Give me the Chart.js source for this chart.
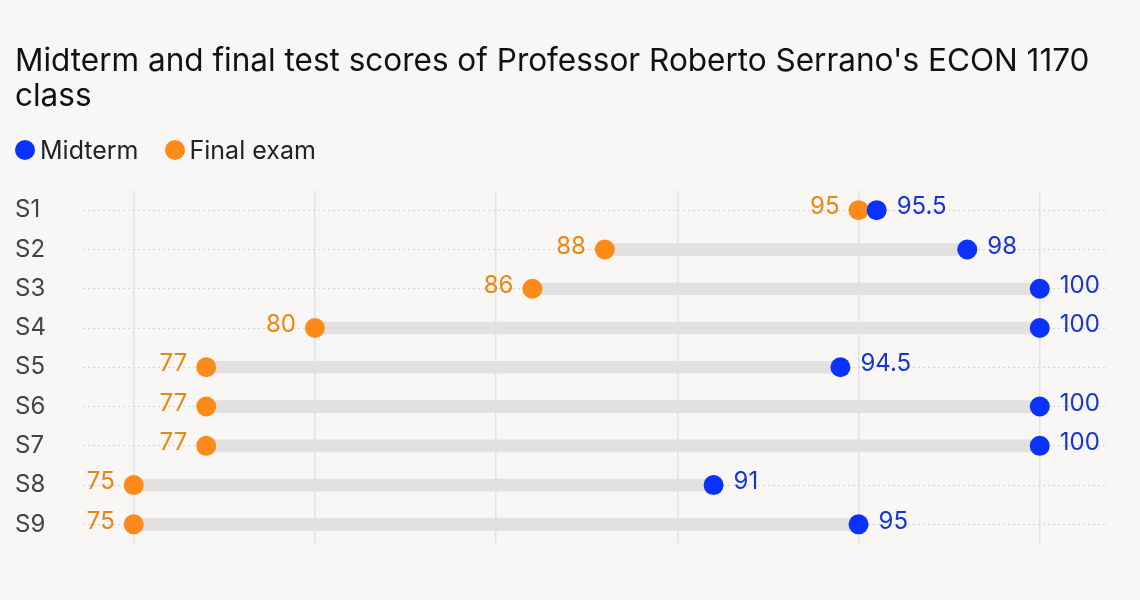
<!DOCTYPE html>
<html>
<head>
<meta charset="utf-8">
<style>
  html, body { margin: 0; padding: 0; background: #f8f7f5; }
  #wrap { position: relative; width: 1140px; height: 600px; }
  #legend { position: absolute; left: 15px; top: 135px; display: flex; align-items: center;
            font: 25px Inter, "Noto Sans", sans-serif; color: #222; }
  #legend span.dot { display: inline-block; width: 20px; height: 20px; border-radius: 50%; margin-right: 5px; }
  #legend span.item { display: flex; align-items: center; margin-right: 26px; }
</style>
</head>
<body>
<div id="wrap">
  <canvas id="scoreChart"></canvas>
  <div id="legend"></div>
</div>
<script src="https://cdn.jsdelivr.net/npm/chart.js"></script>
<script>
    const students = ['S1', 'S2', 'S3', 'S4', 'S5', 'S6', 'S7', 'S8', 'S9'];
    const midterm = [95.5, 98, 100, 100, 94.5, 100, 100, 91, 95];
    const finalExam = [95, 88, 86, 80, 77, 77, 77, 75, 75];
    const gridTicks = [75, 80, 85, 90, 95, 100];

    const blue = '#0a32ff';
    const orange = '#ff8a1c';
    const fontFamily = 'Inter, "Noto Sans", sans-serif';

    // value labels next to the dots: midterm on the right, final on the left
    const valueLabels = {
        id: 'valueLabels',
        afterDatasetsDraw(chart) {
            const c = chart.ctx;
            c.save();
            c.font = '24px ' + fontFamily;
            c.textBaseline = 'middle';
            chart.data.datasets.forEach((ds, i) => {
                if (!ds.labelSide) return;
                const meta = chart.getDatasetMeta(i);
                meta.data.forEach((pt, j) => {
                    c.fillStyle = ds.labelColor;
                    if (ds.labelSide === 'right') {
                        c.textAlign = 'left';
                        c.fillText(ds.data[j], pt.x + 20, pt.y - 3);
                    } else {
                        c.textAlign = 'right';
                        c.fillText(ds.data[j], pt.x - 19, pt.y - 3);
                    }
                });
            });
            c.restore();
        }
    };

    const ctx = document.getElementById('scoreChart').getContext('2d');
    const chart = new Chart(ctx, {
        type: 'bar',
        data: {
            labels: students,
            datasets: [
                {
                    type: 'line',
                    label: 'Midterm',
                    data: midterm,
                    indexAxis: 'y',
                    showLine: false,
                    pointRadius: 10,
                    pointHoverRadius: 10,
                    pointBackgroundColor: blue,
                    pointBorderWidth: 0,
                    backgroundColor: blue,
                    borderColor: blue,
                    labelSide: 'right',
                    labelColor: '#1734d6',
                    order: 0
                },
                {
                    type: 'line',
                    label: 'Final exam',
                    data: finalExam,
                    indexAxis: 'y',
                    showLine: false,
                    pointRadius: 10,
                    pointHoverRadius: 10,
                    pointBackgroundColor: orange,
                    pointBorderWidth: 0,
                    backgroundColor: orange,
                    borderColor: orange,
                    labelSide: 'left',
                    labelColor: '#ea8712',
                    order: 1
                },
                {
                    label: 'range',
                    data: students.map((s, i) => [finalExam[i], midterm[i]]),
                    backgroundColor: '#e2e1df',
                    barThickness: 12,
                    borderSkipped: false,
                    order: 2
                }
            ]
        },
        options: {
            indexAxis: 'y',
            responsive: true,
            maintainAspectRatio: false,
            animation: false,
            layout: { padding: { left: 15, right: 35, top: 44, bottom: 56 } },
            plugins: {
                title: {
                    display: true,
                    align: 'start',
                    text: ["Midterm and final test scores of Professor Roberto Serrano's ECON 1170", 'class'],
                    color: '#111',
                    font: { family: fontFamily, size: 31.5, weight: 'normal', lineHeight: 1.12 },
                    padding: { top: 0, bottom: 76 }
                },
                legend: { display: false },
                tooltip: { enabled: false }
            },
            scales: {
                x: {
                    type: 'linear',
                    min: 73.6,
                    max: 101.8,
                    afterBuildTicks: scale => { scale.ticks = gridTicks.map(v => ({ value: v })); },
                    ticks: { display: false },
                    grid: { color: '#e4e2df', lineWidth: 1.5, drawTicks: false },
                    border: { display: false }
                },
                y: {
                    offset: true,
                    afterFit: scale => { scale.width = 68; },
                    ticks: {
                        crossAlign: 'far',
                        color: '#444',
                        font: { family: fontFamily, size: 24 },
                        padding: 0
                    },
                    grid: {
                        offset: false,
                        drawTicks: false,
                        color: '#d6d4d1',
                        lineWidth: 1
                    },
                    border: { display: false, dash: [2, 3] }
                }
            }
        },
        plugins: [valueLabels]
    });

    // legend built from the chart's own point datasets
    const legendEl = document.getElementById('legend');
    chart.data.datasets.filter(ds => ds.type === 'line').forEach(ds => {
        const item = document.createElement('span');
        item.className = 'item';
        item.innerHTML = '<span class="dot" style="background:' + ds.backgroundColor + '"></span>' + ds.label;
        legendEl.appendChild(item);
    });
</script>
</body>
</html>
